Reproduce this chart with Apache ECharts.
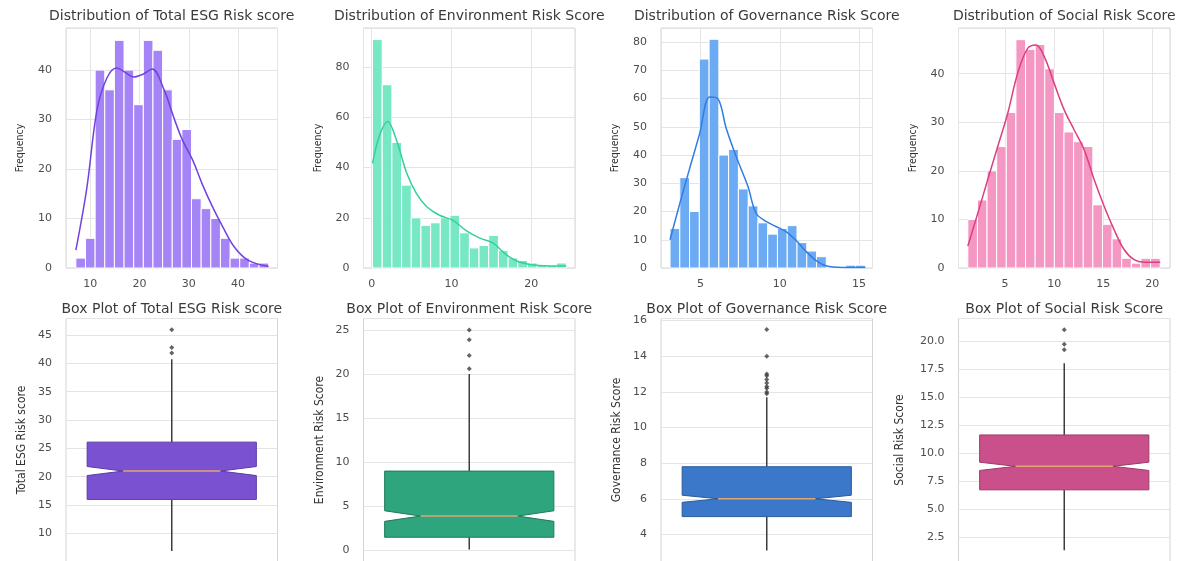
<!DOCTYPE html>
<html>
<head>
<meta charset="utf-8">
<title>ESG Risk Score Distributions</title>
<script src="https://cdn.jsdelivr.net/npm/echarts@6/dist/echarts.min.js"></script>
<style>
  html, body { margin: 0; padding: 0; background: #fff; }
  #chart { width: 1185px; height: 561px; }
</style>
</head>
<body>
<div id="chart"></div>
<script>
// ---- values ----
var histTitles = ['Distribution of Total ESG Risk score', 'Distribution of Environment Risk Score',
                  'Distribution of Governance Risk Score', 'Distribution of Social Risk Score'];
var boxTitles = ['Box Plot of Total ESG Risk score', 'Box Plot of Environment Risk Score',
                 'Box Plot of Governance Risk Score', 'Box Plot of Social Risk Score'];
var boxNames = ['Total ESG Risk score', 'Environment Risk Score', 'Governance Risk Score', 'Social Risk Score'];

// histogram: first and last bin edge, then counts per bin
var totalRange = [7.1, 46.2];
var totalCounts = [2, 6, 40, 36, 46, 40, 33, 46, 44, 36, 26, 28, 14, 12, 10, 6, 2, 2, 1, 1];
var envRange = [0.1, 24.4];
var envCounts = [91, 73, 50, 33, 20, 17, 18, 20, 21, 14, 8, 9, 13, 7, 4, 3, 2, 1, 1, 2];
var govRange = [3.07, 15.4];
var govCounts = [14, 32, 20, 74, 81, 40, 42, 28, 22, 16, 12, 14, 15, 9, 6, 4, 0, 0, 1, 1];
var socRange = [1.2, 20.8];
var socCounts = [10, 14, 20, 25, 32, 47, 45, 46, 41, 32, 28, 26, 25, 13, 9, 6, 2, 1, 2, 2];

// kde curves [x, y]
var totalKde = [[7.1, 3.6], [9.3, 16], [11.4, 32], [13.4, 38.4], [15.4, 40.4], [17, 39.6], [18.8, 38.6],
                [20.8, 39.2], [22.6, 40.2], [25, 36], [27, 30.3], [28.7, 25.9], [30.8, 21.8], [32.8, 16.8],
                [34.8, 12.4], [36.9, 8.3], [39.2, 4.3], [42, 1.6], [46.2, 0.3]];
var envKde = [[0.1, 41.7], [1, 53], [2.0, 58.4], [3.1, 51], [4.4, 37.7], [5.6, 29.7], [6.9, 24.4], [8.5, 21],
              [10.2, 19], [11.8, 15], [13.5, 12], [15.2, 10], [16.9, 5.2], [18.5, 2.4], [21, 1], [24.4, 0.8]];
var govKde = [[3.07, 10], [3.68, 22.7], [4.31, 35.3], [4.94, 47.6], [5.57, 60.6], [6.09, 60], [6.62, 49.4],
              [7.25, 39.4], [7.98, 29], [8.5, 19.4], [9.13, 16.5], [9.76, 14.7], [10.39, 12.9], [11.02, 9.8],
              [11.65, 5.9], [12.28, 2.7], [12.9, 0.8], [13.95, 0.2], [15.4, 0.2]];
var socKde = [[1.2, 4.5], [2.22, 11.3], [3.23, 18.2], [4.25, 25], [5.26, 31.8], [6.28, 40.1], [7.3, 45.2],
              [8.15, 45.9], [8.99, 43.5], [10.0, 38], [11.03, 32.5], [12.04, 28.4], [13.06, 24.3],
              [14.07, 18.2], [15.09, 12.7], [16.1, 7.9], [17.12, 3.8], [18.14, 1.7], [19.15, 1.2], [20.8, 1.2]];

// box plots: [low whisker, q1, median, q3, high whisker], notch [low, high], outliers
var totalBox = [6.9, 16.0, 21.0, 26.1, 40.7];
var totalNotch = [20.2, 21.8];
var totalOut = [41.8, 42.8, 45.9];
var envBox = [0.1, 1.5, 3.9, 9.0, 20.0];
var envNotch = [3.3, 4.5];
var envOut = [20.6, 22.1, 23.9, 25.0];
var govBox = [3.1, 5.0, 6.0, 7.8, 11.7];
var govNotch = [5.8, 6.2];
var govOut = [11.9, 12.0, 12.2, 12.3, 12.5, 12.7, 12.9, 13.0, 14.0, 15.5];
var socBox = [1.3, 6.7, 8.8, 11.6, 18.0];
var socNotch = [8.43, 9.17];
var socOut = [19.2, 19.7, 21.0];

// axes (extent and tick step)
var histX = [[5.1, 48.0, 10], [-1.03, 25.5, 10], [2.5, 15.85, 5], [0.25, 21.8, 5]];
var histY = [[0, 48.5, 10], [0, 95.6, 20], [0, 85, 10], [0, 49.4, 10]];
var boxY = [[5.05, 47.9, 5], [-1.25, 26.3, 5], [2.48, 16.12, 2], [0.3, 22.0, 2.5]];

// ---- styling ----
var barColors = ['#a584f5', '#78e8c4', '#6caaf4', '#f597c3'];
var kdeColors = ['#7241df', '#35cf9e', '#2f7de2', '#d8407f'];
var boxFills = ['#7a52d1', '#2fa57e', '#3b78c9', '#c9508a'];
var boxEdges = ['#5c3aa6', '#1f7a5c', '#2b5b9c', '#9c3a68'];
var panelLeft = [66, 363.5, 661, 958.5];
var panelWidth = 211.5;

var hists = [[totalRange, totalCounts], [envRange, envCounts], [govRange, govCounts], [socRange, socCounts]];
var kdes = [totalKde, envKde, govKde, socKde];
var boxes = [[totalBox, totalNotch, totalOut], [envBox, envNotch, envOut], [govBox, govNotch, govOut], [socBox, socNotch, socOut]];

var axisText = { color: '#4d4d4d', fontSize: 11, fontFamily: 'DejaVu Sans' };
var condensed = 'DejaVu Sans Condensed, Liberation Sans Narrow, DejaVu Sans';
var titleText = { fontSize: 14, fontWeight: 'normal', color: '#3a3a3a', fontFamily: 'DejaVu Sans' };

function tickFormatter(step, digits) {
    return function (v) {
        var k = v / step;
        if (Math.abs(k - Math.round(k)) > 1e-6) return '';
        return digits ? v.toFixed(digits) : String(Math.round(v));
    };
}

function histRenderer(color) {
    return function (params, api) {
        var a = api.coord([api.value(0), api.value(2)]);
        var b = api.coord([api.value(1), 0]);
        return {
            type: 'rect',
            shape: { x: a[0], y: a[1], width: b[0] - a[0], height: b[1] - a[1] },
            style: { fill: color, stroke: '#ffffff', lineWidth: 1 }
        };
    };
}

function boxRenderer(fill, edge) {
    return function (params, api) {
        var lo = api.value(1), q1 = api.value(2), med = api.value(3), q3 = api.value(4), hi = api.value(5);
        var nLo = api.value(6), nHi = api.value(7);
        var half = 0.4, waist = 0.23;
        function pt(x, y) { return api.coord([x, y]); }
        var top = pt(0, hi), boxTop = pt(0, q3), boxBot = pt(0, q1), bot = pt(0, lo);
        var ml = pt(-waist, med), mr = pt(waist, med);
        return {
            type: 'group',
            children: [
                { type: 'line', shape: { x1: top[0], y1: top[1], x2: boxTop[0], y2: boxTop[1] }, style: { stroke: '#3d3d3d', lineWidth: 1.5 } },
                { type: 'line', shape: { x1: bot[0], y1: bot[1], x2: boxBot[0], y2: boxBot[1] }, style: { stroke: '#3d3d3d', lineWidth: 1.5 } },
                {
                    type: 'polygon',
                    shape: { points: [pt(-half, q1), pt(half, q1), pt(half, nLo), mr, pt(half, nHi), pt(half, q3),
                                      pt(-half, q3), pt(-half, nHi), ml, pt(-half, nLo)] },
                    style: { fill: fill, stroke: edge, lineWidth: 1 }
                },
                { type: 'line', shape: { x1: ml[0], y1: ml[1], x2: mr[0], y2: mr[1] }, style: { stroke: '#e3a571', lineWidth: 1.5 } }
            ]
        };
    };
}

var option = {
    animation: false,
    backgroundColor: '#ffffff',
    title: [],
    grid: [],
    xAxis: [],
    yAxis: [],
    series: []
};

for (var i = 0; i < 4; i++) {
    var cx = panelLeft[i] + panelWidth / 2;
    var h = 2 * i, b = 2 * i + 1;   // grid / axis index of histogram and box panel
    option.title.push({ text: histTitles[i], left: cx, top: 9, textAlign: 'center', padding: 0, textStyle: titleText });
    option.title.push({ text: boxTitles[i], left: cx, top: 302, textAlign: 'center', padding: 0, textStyle: titleText });

    // top row: histogram + kde
    option.grid.push({ left: panelLeft[i], top: 28, width: panelWidth, height: 240, outerBoundsMode: 'none',
        show: true, borderColor: '#d4d4d4', borderWidth: 1 });
    option.xAxis.push({
        type: 'value', gridIndex: h, min: histX[i][0], max: histX[i][1],
        minInterval: histX[i][2], maxInterval: histX[i][2],
        axisLine: { show: false }, axisTick: { show: false },
        axisLabel: Object.assign({ margin: 11, formatter: tickFormatter(histX[i][2]) }, axisText),
        splitLine: { show: true, lineStyle: { color: '#e4e4e4', width: 1 } }
    });
    option.yAxis.push({
        type: 'value', gridIndex: h, min: histY[i][0], max: histY[i][1],
        minInterval: histY[i][2], maxInterval: histY[i][2],
        name: 'Frequency', nameLocation: 'middle', nameGap: 40,
        nameTextStyle: { color: '#333', fontSize: 10.5, fontFamily: condensed },
        axisLine: { show: false }, axisTick: { show: false },
        axisLabel: Object.assign({ margin: 14, formatter: tickFormatter(histY[i][2]) }, axisText),
        splitLine: { show: true, lineStyle: { color: '#e4e4e4', width: 1 } }
    });

    // bottom row: notched box plot
    option.grid.push({ left: panelLeft[i], top: 318.5, width: panelWidth, height: 243, outerBoundsMode: 'none',
        show: true, borderColor: '#d4d4d4', borderWidth: 1 });
    option.xAxis.push({
        type: 'value', gridIndex: b, min: -0.5, max: 0.5,
        axisLine: { show: false }, axisTick: { show: false }, axisLabel: { show: false },
        splitLine: { show: false }
    });
    option.yAxis.push({
        type: 'value', gridIndex: b, min: boxY[i][0], max: boxY[i][1],
        minInterval: boxY[i][2], maxInterval: boxY[i][2],
        name: boxNames[i], nameLocation: 'middle', nameGap: i === 3 ? 53 : 38,
        nameTextStyle: { color: '#333', fontSize: 12, fontFamily: condensed },
        axisLine: { show: false }, axisTick: { show: false },
        axisLabel: Object.assign({ margin: 14, formatter: tickFormatter(boxY[i][2], i === 3 ? 1 : 0) }, axisText),
        splitLine: { show: true, lineStyle: { color: '#e4e4e4', width: 1 } }
    });

    var range = hists[i][0], counts = hists[i][1];
    var w = (range[1] - range[0]) / counts.length;
    var binData = counts.map(function (c, k) {
        return [range[0] + k * w, range[0] + (k + 1) * w, c];
    });
    option.series.push({
        type: 'custom', xAxisIndex: h, yAxisIndex: h, data: binData,
        renderItem: histRenderer(barColors[i]), z: 2
    });
    option.series.push({
        type: 'line', xAxisIndex: h, yAxisIndex: h, data: kdes[i], smooth: 0.35,
        showSymbol: false, lineStyle: { color: kdeColors[i], width: 1.5 }, z: 3
    });

    var st = boxes[i][0], notch = boxes[i][1];
    option.series.push({
        type: 'custom', xAxisIndex: b, yAxisIndex: b,
        data: [[0, st[0], st[1], st[2], st[3], st[4], notch[0], notch[1]]],
        renderItem: boxRenderer(boxFills[i], boxEdges[i]), z: 2
    });
    option.series.push({
        type: 'scatter', xAxisIndex: b, yAxisIndex: b,
        data: boxes[i][2].map(function (v) { return [0, v]; }),
        symbol: 'diamond', symbolSize: 5, itemStyle: { color: '#3d3d3d' }, z: 3
    });
}

var myChart = echarts.init(document.getElementById('chart'));
myChart.setOption(option);
</script>
</body>
</html>
